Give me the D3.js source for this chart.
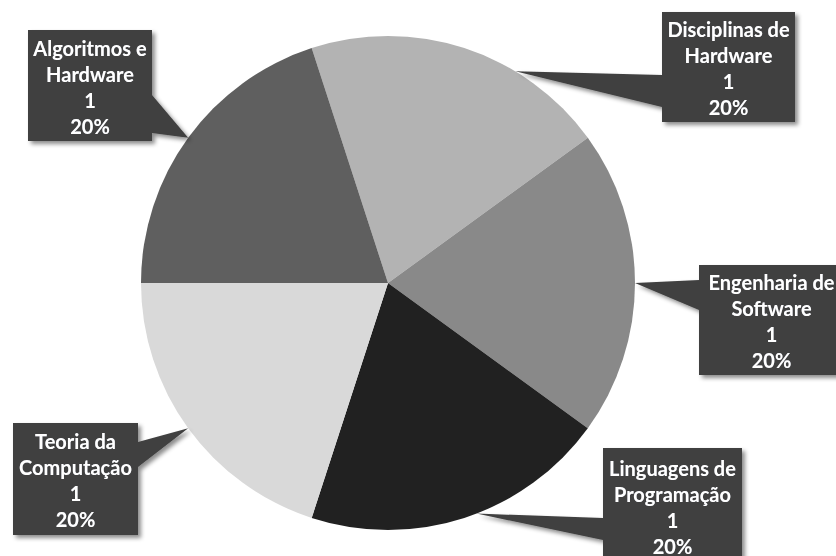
<!DOCTYPE html>
<html>
<head>
<meta charset="utf-8">
<script src="https://cdn.jsdelivr.net/npm/d3@7"></script>
<style>
  html, body { margin: 0; padding: 0; background: #ffffff; }
  svg { display: block; }
  .lbl text { font-family: Lato, "Open Sans", sans-serif; font-weight: bold; fill: #ffffff; }
</style>
</head>
<body>
<svg id="chart" width="836" height="556"></svg>
<script>
// Course areas and their counts
const categories = [
  "Disciplinas de Hardware",
  "Engenharia de Software",
  "Linguagens de Programação",
  "Teoria da Computação",
  "Algoritmos e Hardware"
];
const values = [1, 1, 1, 1, 1];
// Label lines for each slice name
const nameLines = [
  ["Disciplinas de", "Hardware"],
  ["Engenharia de", "Software"],
  ["Linguagens de", "Programação"],
  ["Teoria da", "Computação"],
  ["Algoritmos e", "Hardware"]
];
const sliceColors = ["#b3b3b3", "#898989", "#212121", "#d9d9d9", "#5f5f5f"];

// Callout boxes: position/size, pointer tip angle (deg, clockwise from 12 o'clock),
// and the box edge where the pointer attaches
const callouts = [
  { x: 662, y: 12,  w: 133, h: 110, tipDeg: 31,  side: "left",  b0: 75,  b1: 107 },
  { x: 699, y: 265, w: 145, h: 110, tipDeg: 90,  side: "left",  b0: 280, b1: 310 },
  { x: 603, y: 448, w: 139, h: 115, tipDeg: 159, side: "left",  b0: 518, b1: 540 },
  { x: 13,  y: 423, w: 125, h: 112, tipDeg: 234, side: "right", b0: 442, b1: 467 },
  { x: 28,  y: 30,  w: 124, h: 111, tipDeg: 306, side: "right", b0: 95,  b1: 133 }
];

const svg = d3.select("#chart");
const cx = 388, cy = 283, radius = 247;

const defs = svg.append("defs");
const shadow = defs.append("filter").attr("id", "boxShadow")
  .attr("x", "-10%").attr("y", "-10%").attr("width", "130%").attr("height", "130%");
shadow.append("feDropShadow").attr("dx", 3).attr("dy", 3).attr("stdDeviation", 2)
  .attr("flood-color", "#000").attr("flood-opacity", 0.45);
const glow = defs.append("filter").attr("id", "textGlow")
  .attr("x", "-10%").attr("y", "-20%").attr("width", "120%").attr("height", "140%");
glow.append("feDropShadow").attr("dx", 0).attr("dy", 0).attr("stdDeviation", 0.6)
  .attr("flood-color", "#1f3b70").attr("flood-opacity", 0.9);

const total = d3.sum(values);
const pie = d3.pie().sort(null).value(d => d)
  .startAngle(-Math.PI / 10).endAngle(2 * Math.PI - Math.PI / 10);
const arcs = pie(values);
const arc = d3.arc().innerRadius(0).outerRadius(radius);

const g = svg.append("g").attr("transform", `translate(${cx},${cy})`);
g.selectAll("path.slice").data(arcs).join("path")
  .attr("class", "slice")
  .attr("d", arc)
  .attr("fill", (d, i) => sliceColors[i]);

const pct = d3.format(".0%");

// Callout labels
const lbl = svg.append("g").attr("class", "lbl");
arcs.forEach((a, i) => {
  const c = callouts[i];
  const t = c.tipDeg * Math.PI / 180;
  const tx = cx + radius * Math.sin(t), ty = cy - radius * Math.cos(t);
  const shape = d3.path();
  shape.moveTo(c.x, c.y);
  shape.lineTo(c.x + c.w, c.y);
  if (c.side === "right") {
    shape.lineTo(c.x + c.w, c.b0);
    shape.lineTo(tx, ty);
    shape.lineTo(c.x + c.w, c.b1);
  }
  shape.lineTo(c.x + c.w, c.y + c.h);
  shape.lineTo(c.x, c.y + c.h);
  if (c.side === "left") {
    shape.lineTo(c.x, c.b1);
    shape.lineTo(tx, ty);
    shape.lineTo(c.x, c.b0);
  }
  shape.closePath();
  const grp = lbl.append("g");
  grp.append("path").attr("d", shape.toString())
    .attr("fill", "#404040").attr("filter", "url(#boxShadow)");
  const lines = nameLines[i].concat([String(values[i]), pct(values[i] / total)]);
  const lh = 26;
  const mid = c.y + c.h / 2 + 2;
  const x = c.x + c.w / 2;
  grp.append("text")
    .attr("filter", "url(#textGlow)")
    .attr("text-anchor", "middle")
    .attr("font-size", 20)
    .selectAll("tspan").data(lines).join("tspan")
    .attr("x", x)
    .attr("y", (d, k) => mid + (k - (lines.length - 1) / 2) * lh)
    .attr("dy", "0.35em")
    .text(d => d);
});
</script>
</body>
</html>
